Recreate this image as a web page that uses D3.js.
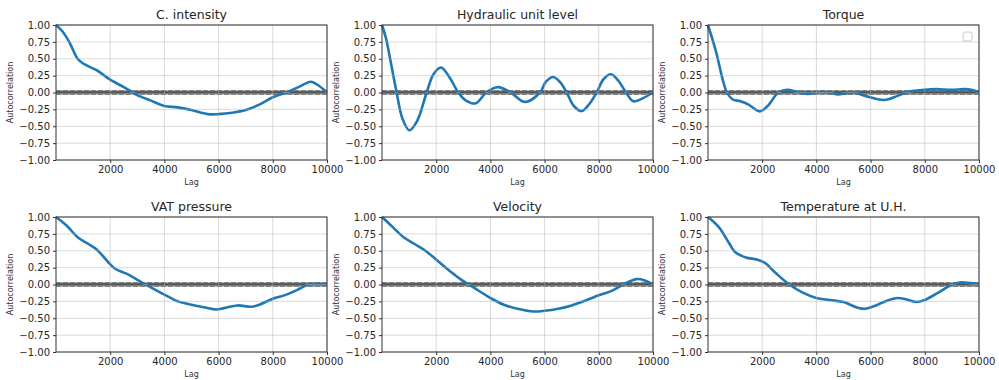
<!DOCTYPE html>
<html>
<head>
<meta charset="utf-8">
<script src="https://d3js.org/d3.v7.min.js"></script>
<style>
  * { margin: 0; padding: 0; }
  body { background: #fff; width: 999px; height: 380px; overflow: hidden; font-family: 'DejaVu Sans', sans-serif; }
  svg { display: block; }
</style>
</head>
<body>
<svg id="chart" width="999" height="380"></svg>
<script>
// lag / autocorrelation pairs
const cIntensity = [[1,1.0],[250,0.9],[500,0.74],[800,0.5],[1000,0.43],[1500,0.33],[2000,0.19],[2500,0.08],[2800,0.01],[3000,-0.04],[3500,-0.12],[4000,-0.2],[4500,-0.22],[5000,-0.26],[5600,-0.32],[6000,-0.32],[6500,-0.3],[7000,-0.26],[7500,-0.18],[8000,-0.07],[8500,0.0],[9000,0.09],[9400,0.16],[9700,0.1],[10000,0.0]];
const hydraulic = [[1,1.0],[150,0.8],[300,0.5],[541,0.0],[750,-0.38],[1010,-0.56],[1300,-0.42],[1648,0.0],[1900,0.27],[2177,0.37],[2500,0.22],[2817,0.0],[3100,-0.12],[3457,-0.16],[3850,0.0],[4280,0.08],[4750,0.0],[5277,-0.14],[5830,0.0],[6050,0.16],[6322,0.23],[6580,0.15],[6815,0.0],[7080,-0.2],[7368,-0.275],[7650,-0.17],[7920,0.0],[8180,0.2],[8450,0.27],[8730,0.17],[9004,0.0],[9274,-0.13],[9650,-0.08],[10000,0.0]];
const torque = [[1,1.0],[300,0.6],[550,0.18],[700,0.0],[900,-0.1],[1200,-0.13],[1500,-0.18],[1900,-0.28],[2200,-0.2],[2600,0.0],[2900,0.04],[3300,0.01],[3700,-0.02],[4200,0.01],[4500,0.0],[4800,-0.03],[5100,-0.01],[5400,0.0],[5800,-0.05],[6500,-0.11],[7000,-0.05],[7400,0.01],[8000,0.04],[8400,0.05],[9000,0.04],[9500,0.05],[10000,0.01]];
const vatPressure = [[1,1.0],[400,0.87],[800,0.7],[1200,0.6],[1500,0.52],[2000,0.3],[2200,0.23],[2600,0.16],[3000,0.07],[3400,-0.02],[4000,-0.15],[4500,-0.25],[5000,-0.3],[5500,-0.34],[5900,-0.37],[6200,-0.35],[6700,-0.31],[7200,-0.33],[7500,-0.3],[8000,-0.21],[8500,-0.15],[9000,-0.06],[9300,0.0],[9700,0.01],[10000,0.0]];
const velocity = [[1,1.0],[400,0.85],[800,0.7],[1200,0.6],[1600,0.5],[2000,0.37],[2500,0.2],[3000,0.05],[3200,0.0],[3600,-0.1],[4000,-0.2],[4500,-0.3],[5000,-0.36],[5600,-0.4],[6000,-0.39],[6500,-0.36],[7000,-0.31],[7500,-0.24],[8000,-0.16],[8500,-0.09],[9000,0.02],[9400,0.08],[9700,0.06],[10000,0.0]];
const temperature = [[1,1.0],[400,0.85],[800,0.6],[1000,0.48],[1400,0.4],[1800,0.37],[2100,0.32],[2500,0.17],[3000,0.0],[3500,-0.12],[4000,-0.2],[4500,-0.23],[5000,-0.26],[5500,-0.34],[5800,-0.36],[6200,-0.31],[6600,-0.24],[7000,-0.2],[7300,-0.22],[7700,-0.26],[8000,-0.23],[8500,-0.12],[9000,0.0],[9300,0.03],[9700,0.02],[10000,0.0]];

const titles = ["C. intensity", "Hydraulic unit level", "Torque", "VAT pressure", "Velocity", "Temperature at U.H."];
const seriesList = [cIntensity, hydraulic, torque, vatPressure, velocity, temperature];
const xTicks = [2000, 4000, 6000, 8000, 10000];
const yTicks = [-1, -0.75, -0.5, -0.25, 0, 0.25, 0.5, 0.75, 1];
const nObs = 10000;

const svg = d3.select("#chart");
const colLeft = [56, 382, 708];
const rowTop = [25, 217];
const w = 271, h = 135;
const fmt = v => d3.format(".2f")(v).replace("-", "\u2212");

seriesList.forEach((data, i) => {
  const x0 = colLeft[i % 3], y0 = rowTop[Math.floor(i / 3)];
  const g = svg.append("g").attr("transform", `translate(${x0},${y0})`);
  const x = d3.scaleLinear().domain([1, nObs]).range([0, w]);
  const y = d3.scaleLinear().domain([-1, 1]).range([h, 0]);

  // confidence bands like pandas autocorrelation_plot
  const z95 = 1.959963984540054 / Math.sqrt(nObs);
  const z99 = 2.5758293035489004 / Math.sqrt(nObs);
  [[z99, "#808080", "5,2"], [z95, "#808080", null], [0, "#000", null], [-z95, "#808080", null], [-z99, "#808080", "5,2"]]
    .forEach(([v, c, dash]) => {
      g.append("line").attr("x1", 0).attr("x2", w).attr("y1", y(v)).attr("y2", y(v))
        .attr("stroke", c).attr("stroke-width", 1.4).attr("stroke-dasharray", dash);
    });

  g.append("path").datum(data)
    .attr("fill", "none").attr("stroke", "#1f77b4").attr("stroke-width", 2.6)
    .attr("d", d3.line().x(d => x(d[0])).y(d => y(d[1])).curve(d3.curveCatmullRom.alpha(0.5)));

  // grid
  xTicks.forEach(t => g.append("line").attr("x1", x(t)).attr("x2", x(t)).attr("y1", 0).attr("y2", h)
    .attr("stroke", "#b0b0b0").attr("stroke-opacity", 0.6).attr("stroke-width", 0.8));
  yTicks.forEach(t => g.append("line").attr("x1", 0).attr("x2", w).attr("y1", y(t)).attr("y2", y(t))
    .attr("stroke", "#b0b0b0").attr("stroke-opacity", 0.6).attr("stroke-width", 0.8));

  const xa = g.append("g").attr("transform", `translate(0,${h})`)
    .call(d3.axisBottom(x).tickValues(xTicks).tickSize(3).tickPadding(3).tickFormat(d3.format("d")));
  const ya = g.append("g")
    .call(d3.axisLeft(y).tickValues(yTicks).tickSize(3).tickPadding(3).tickFormat(fmt));
  [xa, ya].forEach(a => {
    a.select(".domain").remove();
    a.selectAll("text").attr("font-family", "DejaVu Sans").attr("font-size", 10).attr("fill", "#262626");
    a.selectAll("line").attr("stroke", "#333");
  });

  g.append("rect").attr("width", w).attr("height", h).attr("fill", "none")
    .attr("stroke", "#333").attr("stroke-width", 1);

  g.append("text").attr("x", w / 2).attr("y", -6).attr("text-anchor", "middle")
    .attr("font-size", 12.5).attr("fill", "#262626").text(titles[i]);
  g.append("text").attr("x", w / 2).attr("y", h + 25).attr("text-anchor", "middle")
    .attr("font-size", 8).attr("fill", "#333").text("Lag");
  g.append("text").attr("transform", `translate(${-43},${h / 2}) rotate(-90)`).attr("text-anchor", "middle")
    .attr("font-size", 8).attr("fill", "#333").text("Autocorrelation");

  // empty legend frame drawn by the source figure
  if (i === 2) {
    g.append("rect").attr("x", w - 16).attr("y", 7).attr("width", 9).attr("height", 9).attr("rx", 2)
      .attr("fill", "#fff").attr("stroke", "#ccc").attr("stroke-width", 1);
  }
});
</script>
</body>
</html>
